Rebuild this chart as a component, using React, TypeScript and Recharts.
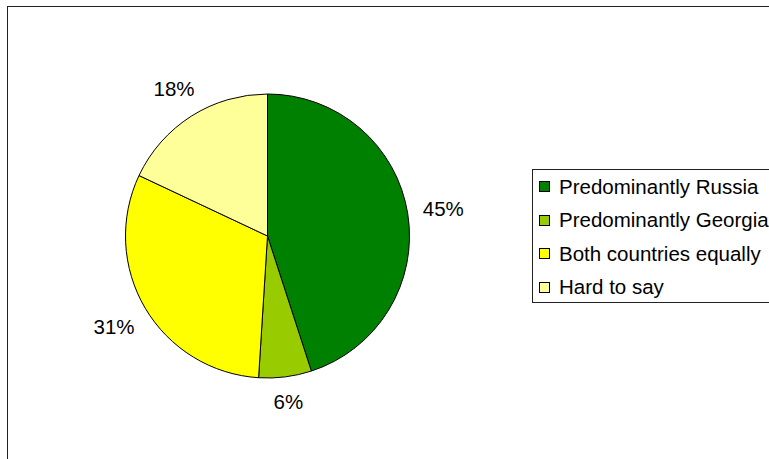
import React from 'react';
import { PieChart, Pie, Cell, Legend } from 'recharts';

const categories = ['Predominantly Russia', 'Predominantly Georgia', 'Both countries equally', 'Hard to say'];
const shares = [45, 6, 31, 18];
const colors = ['#008000', '#99CC00', '#FFFF00', '#FFFF99'];

const data = categories.map((name, i) => ({ name, value: shares[i] }));

const FONT = '"Liberation Sans", Arial, Helvetica, sans-serif';
const RADIAN = Math.PI / 180;

const renderLabel = (props: any) => {
  const { cx, cy, midAngle, outerRadius, value } = props;
  const text = `${value}%`;
  const halfW = (text.length === 2 ? 29 : 40) / 2;
  const halfH = 8;
  const cos = Math.cos(-midAngle * RADIAN);
  const sin = Math.sin(-midAngle * RADIAN);
  const r = outerRadius + 15 + halfW * Math.abs(cos) + halfH * Math.abs(sin);
  const x = cx + r * cos;
  const y = cy + r * sin;
  return (
    <text x={x} y={y} textAnchor="middle" dominantBaseline="central" fill="#000" fontSize={20.5} fontFamily={FONT}>
      {text}
    </text>
  );
};

const renderLegend = (props: any) => {
  // keep the order of the categories, not the default alphabetical one
  const payload = [...(props.payload || [])].sort(
    (a: any, b: any) => categories.indexOf(a.value) - categories.indexOf(b.value)
  );
  return (
    <div
      style={{
        border: '1px solid #222',
        width: 260,
        height: 134,
        boxSizing: 'border-box',
        background: '#fff',
        fontFamily: FONT,
        fontSize: 20.5,
        color: '#000',
      }}
    >
      {payload.map((entry: any, i: number) => (
        <div key={i} style={{ height: 33.5, display: 'flex', alignItems: 'center', whiteSpace: 'nowrap' }}>
          <span
            style={{
              display: 'inline-block',
              width: 11,
              height: 11,
              boxSizing: 'border-box',
              border: '1px solid #000',
              background: entry.color,
              marginLeft: 6,
              marginRight: 9,
            }}
          />
          <span>{entry.value}</span>
        </div>
      ))}
    </div>
  );
};

const App: React.FC = () => {
  return (
    <div style={{ position: 'absolute', left: 0, top: 0, width: 769, height: 459, overflow: 'hidden', background: '#fff' }}>
      <div
        style={{
          position: 'absolute',
          left: 7,
          top: 6,
          width: 820,
          height: 520,
          border: '1px solid #222',
        }}
      />
      <div style={{ position: 'absolute', left: 0, top: 0 }}>
        <PieChart width={769} height={459} margin={{ top: 0, right: 0, bottom: 0, left: 0 }}>
          <Pie
            data={data}
            dataKey="value"
            nameKey="name"
            cx={267.5}
            cy={236}
            outerRadius={142}
            startAngle={90}
            endAngle={-270}
            stroke="#000"
            strokeWidth={1}
            label={renderLabel}
            labelLine={false}
            isAnimationActive={false}
          >
            {data.map((d, i) => (
              <Cell key={d.name} fill={colors[i]} />
            ))}
          </Pie>
          <Legend
            layout="vertical"
            content={renderLegend}
            wrapperStyle={{ position: 'absolute', left: 532, top: 169, width: 260 }}
          />
        </PieChart>
      </div>
    </div>
  );
};

export default App;
